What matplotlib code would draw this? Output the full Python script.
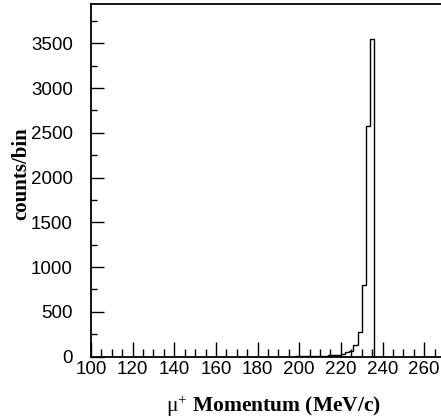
import numpy as np
import matplotlib
matplotlib.use('Agg')
import matplotlib.pyplot as plt
from matplotlib.ticker import MultipleLocator

plt.rcParams['mathtext.fontset'] = 'custom'
plt.rcParams['mathtext.rm'] = 'Liberation Serif'
plt.rcParams['mathtext.it'] = 'Liberation Serif:italic'
plt.rcParams['mathtext.bf'] = 'Liberation Serif:bold'

# --- DATA ---
bin_edges = [198, 200, 202, 204, 206, 208, 210, 212, 214, 216, 218, 220,
             222, 224, 226, 228, 230, 232, 234, 236]
counts = [1, 1, 2, 2, 3, 4, 6, 9, 12, 16, 22,
          28, 50, 62, 125, 270, 795, 2580, 3545]
x_ticks = [100, 120, 140, 160, 180, 200, 220, 240, 260]
y_ticks = [0, 500, 1000, 1500, 2000, 2500, 3000, 3500]

W, H = 441, 420
fig = plt.figure(figsize=(W / 100, H / 100), dpi=100)
# axes runs past the right edge like the original
left, right, top, bottom = 91, 445, 4, 356.5
ax = fig.add_axes([left / W, (H - bottom) / H, (right - left) / W, (bottom - top) / H])

ax.stairs(counts, bin_edges, baseline=0, color='black', lw=1.0)

ax.set_xlim(100, 270)
ax.set_ylim(0, 3940)
ax.set_xticks(x_ticks)
ax.set_yticks(y_ticks)
ax.xaxis.set_minor_locator(MultipleLocator(5))
ax.yaxis.set_minor_locator(MultipleLocator(250))

tick_font = {'family': 'Liberation Sans', 'size': 13.5}
ax.set_xticklabels([str(v) for v in x_ticks], fontdict=tick_font)
ax.set_yticklabels([str(v) for v in y_ticks], fontdict=tick_font)

ax.tick_params(which='both', direction='in', top=False, right=False, width=1.0)
ax.tick_params(axis='x', which='major', length=11, pad=3)
ax.tick_params(axis='x', which='minor', length=5.5)
ax.tick_params(axis='y', which='major', length=9, pad=13)
ax.tick_params(axis='y', which='minor', length=4.5)

for s in ax.spines.values():
    s.set_linewidth(1.3)

label_font = {'family': 'Liberation Serif', 'weight': 'bold', 'size': 15.5}
ax.set_xlabel(r'$\mathrm{μ}^{+}$ Momentum (MeV/c)', fontdict=label_font)
ax.set_ylabel('counts/bin', fontdict={**label_font, 'size': 15})
# place labels where the original has them (axes fractions)
ax.xaxis.set_label_coords(0.517, -0.106)
ax.yaxis.set_label_coords(-0.168, 0.52)

plt.savefig('out.png', dpi=100)
